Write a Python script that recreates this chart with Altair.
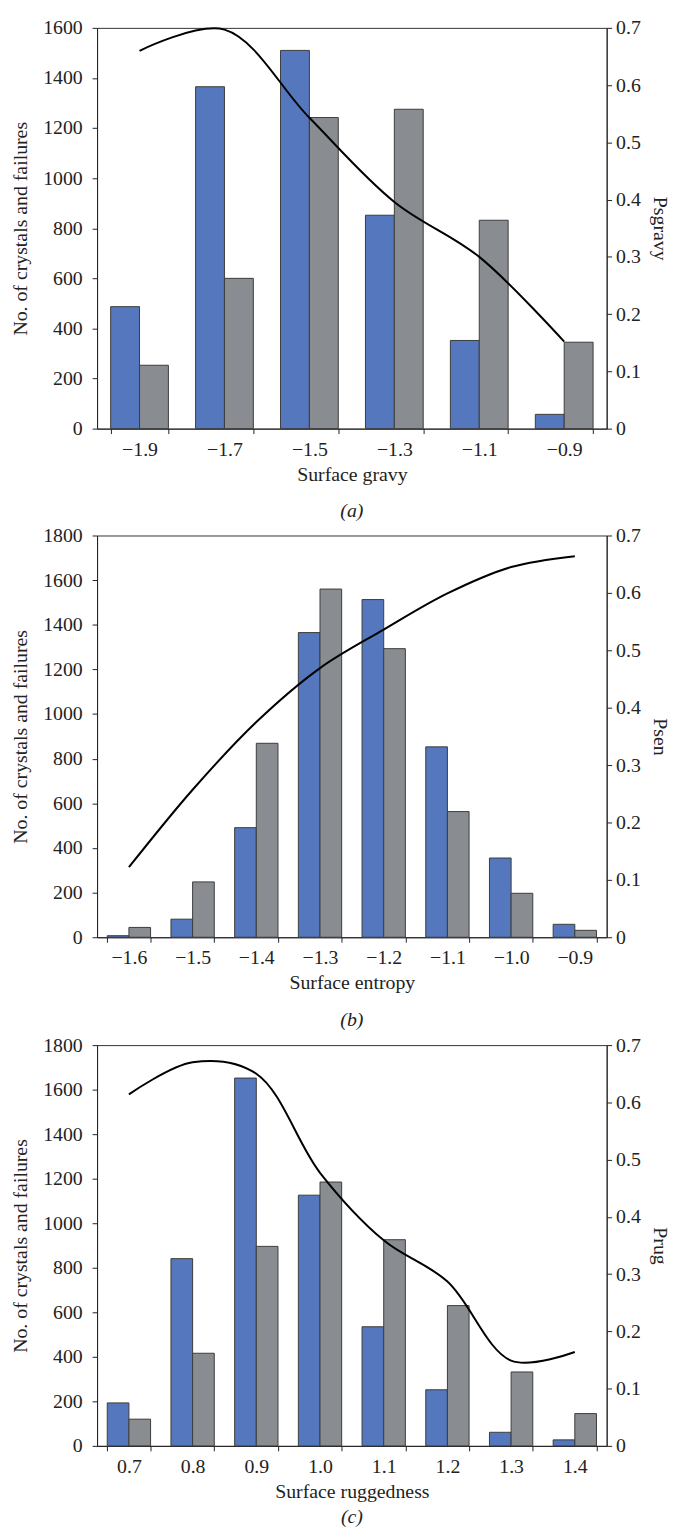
import altair as alt
import pandas as pd

# ---------------- data ----------------
cats_a = ["−1.9", "−1.7", "−1.5", "−1.3", "−1.1", "−0.9"]
crys_a = [487, 1365, 1510, 852, 352, 57]
fail_a = [253, 600, 1242, 1275, 832, 345]
prob_a = [0.660, 0.697, 0.543, 0.396, 0.300, 0.152]

cats_b = ["−1.6", "−1.5", "−1.4", "−1.3", "−1.2", "−1.1", "−1.0", "−0.9"]
crys_b = [7, 81, 491, 1365, 1513, 853, 355, 58]
fail_b = [44, 248, 869, 1560, 1293, 563, 197, 31]
prob_b = [0.122, 0.257, 0.375, 0.469, 0.536, 0.599, 0.645, 0.664]

cats_c = ["0.7", "0.8", "0.9", "1.0", "1.1", "1.2", "1.3", "1.4"]
crys_c = [193, 841, 1652, 1126, 535, 252, 61, 27]
fail_c = [120, 416, 896, 1185, 926, 630, 332, 145]
prob_c = [0.614, 0.670, 0.650, 0.477, 0.359, 0.287, 0.149, 0.164]

SERIES = ["Crystals", "Failures"]
FONT = "Liberation Serif"
FS = 20


def panel(cats, crys, fail, prob, xtitle, rtitle, ymax, caption, height, cap_offset):
    bars_df = pd.DataFrame({
        "cat": cats * 2,
        "series": [SERIES[0]] * len(cats) + [SERIES[1]] * len(cats),
        "value": crys + fail,
    })
    line_df = pd.DataFrame({"cat": cats, "p": prob})

    x = alt.X(
        "cat:N",
        sort=cats,
        scale=alt.Scale(paddingInner=0.32, paddingOuter=0.16),
        axis=alt.Axis(
            title=xtitle, labelAngle=0, tickBand="extent",
            tickSize=5, labelPadding=6, titlePadding=5,
        ),
    )
    bars = alt.Chart(bars_df).mark_bar(
        stroke="#3c3c3c", strokeWidth=1
    ).encode(
        x=x,
        xOffset=alt.XOffset("series:N", sort=SERIES),
        y=alt.Y(
            "value:Q",
            scale=alt.Scale(domain=[0, ymax], nice=False),
            axis=alt.Axis(
                title="No. of crystals and failures",
                values=list(range(0, ymax + 1, 200)),
                format="d", tickSize=5, labelPadding=10, titlePadding=12,
            ),
        ),
        color=alt.Color(
            "series:N",
            scale=alt.Scale(domain=SERIES, range=["#5577bd", "#898d91"]),
            legend=None,
        ),
    )
    line = alt.Chart(line_df).mark_line(
        color="black", strokeWidth=2, interpolate="catmull-rom"
    ).encode(
        x=x,
        y=alt.Y(
            "p:Q",
            scale=alt.Scale(domain=[0, 0.7], nice=False),
            axis=alt.Axis(
                title=rtitle, orient="right",
                values=[0, 0.1, 0.2, 0.3, 0.4, 0.5, 0.6, 0.7],
                format="~g", tickSize=5, labelPadding=4, titlePadding=9,
            ),
        ),
    )
    return alt.layer(bars, line).resolve_scale(y="independent").properties(
        width=515,
        height=height,
        title=alt.TitleParams(
            caption, orient="bottom", frame="group", anchor="middle",
            font=FONT, fontSize=FS, fontStyle="italic", fontWeight="normal",
            color="#222", offset=cap_offset,
        ),
    )


pa = panel(cats_a, crys_a, fail_a, prob_a, "Surface gravy", "Psgravy", 1600, "(a)", 405, 17)
pb = panel(cats_b, crys_b, fail_b, prob_b, "Surface entropy", "Psen", 1800, "(b)", 406, 18)
pc = panel(cats_c, crys_c, fail_c, prob_c, "Surface ruggedness", "Prug", 1800, "(c)", 405, 6)

chart = alt.vconcat(pa, pb, pc, spacing=3).resolve_scale(
    xOffset="independent"
).properties(
    padding={"left": 2, "top": 1, "right": 0, "bottom": 0}
).configure_view(
    stroke="#333", strokeWidth=1
).configure_axis(
    grid=False,
    domainColor="#222",
    tickColor="#222",
    labelFont=FONT,
    titleFont=FONT,
    labelFontSize=FS,
    titleFontSize=FS,
    labelColor="#222",
    titleColor="#222",
    titleFontWeight="normal",
)

chart.save("out.html", embed_options={"renderer": "svg", "actions": False})
